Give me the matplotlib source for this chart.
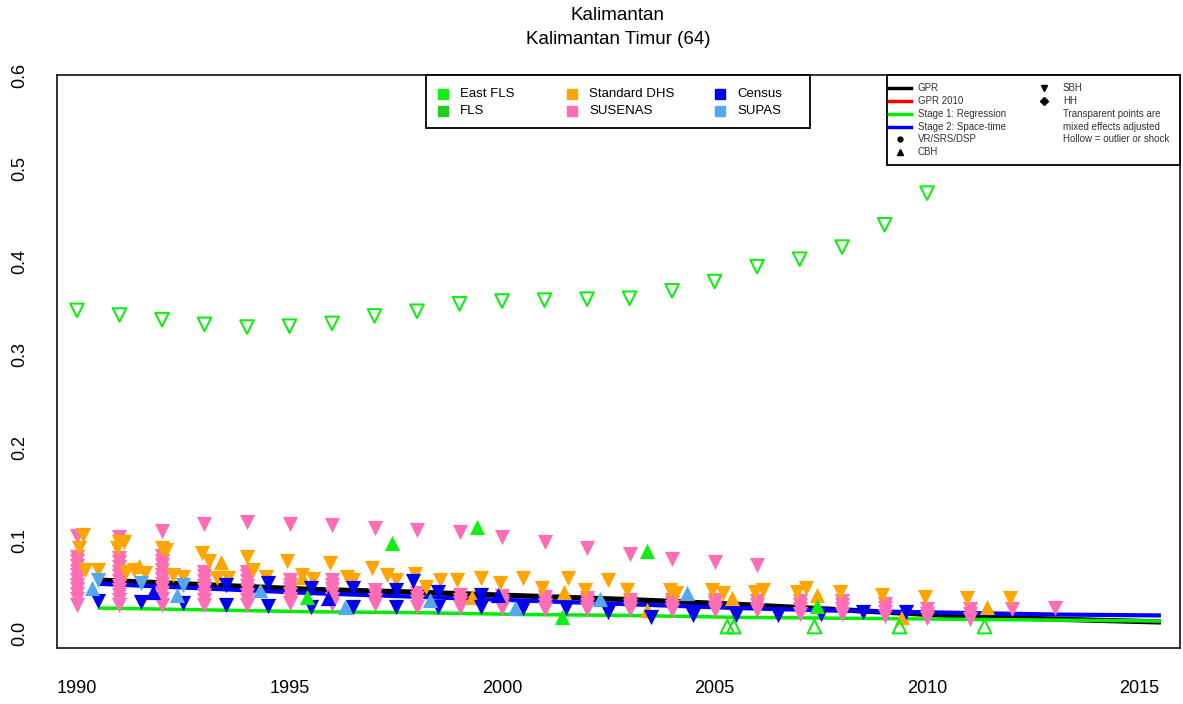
import numpy as np
import matplotlib.pyplot as plt
from matplotlib.lines import Line2D
from matplotlib.patches import Rectangle

plt.rcParams['font.family'] = ['Liberation Sans', 'DejaVu Sans']

# colours of the sources
c_eastfls = '#11EE11'
c_fls = '#22CC22'
c_dhs = '#FFA500'
c_susenas = '#FF6EB4'
c_census = '#0000EE'
c_supas = '#55A8EE'

# model lines
line_years = [1990.5, 1993, 1995.5, 1998, 2000.5, 2003, 2005.5, 2008, 2010.5, 2013, 2015.5]
gpr = [0.057, 0.052, 0.047, 0.044, 0.040, 0.036, 0.031, 0.025, 0.019, 0.015, 0.012]
stage2 = [0.053, 0.048, 0.043, 0.039, 0.035, 0.031, 0.027, 0.024, 0.022, 0.020, 0.019]
stage1 = [0.027, 0.025, 0.023, 0.022, 0.020, 0.019, 0.017, 0.016, 0.015, 0.014, 0.013]

# SUSENAS, SBH (stacks of reports per year)
susenas_years = list(range(1990, 2014))
susenas_vals = [
    [0.104, 0.082, 0.077, 0.072, 0.067, 0.062, 0.057, 0.052, 0.047, 0.042, 0.037, 0.030],
    [0.103, 0.081, 0.076, 0.071, 0.066, 0.061, 0.056, 0.051, 0.046, 0.041, 0.036, 0.030],
    [0.110, 0.083, 0.078, 0.073, 0.068, 0.063, 0.058, 0.053, 0.048, 0.043, 0.037, 0.030],
    [0.117, 0.066, 0.061, 0.056, 0.051, 0.046, 0.041, 0.036, 0.030],
    [0.119, 0.066, 0.061, 0.056, 0.051, 0.046, 0.041, 0.036, 0.030],
    [0.117, 0.057, 0.052, 0.047, 0.042, 0.037, 0.032],
    [0.116, 0.057, 0.052, 0.047, 0.042, 0.037, 0.031],
    [0.113, 0.046, 0.041, 0.036, 0.031],
    [0.111, 0.043, 0.038, 0.033, 0.028],
    [0.109, 0.041, 0.036, 0.032, 0.028],
    [0.103, 0.040, 0.035, 0.031, 0.027],
    [0.098, 0.039, 0.034, 0.030, 0.026],
    [0.091, 0.038, 0.034, 0.030, 0.026],
    [0.085, 0.036, 0.032, 0.029, 0.026],
    [0.080, 0.036, 0.032, 0.028, 0.025],
    [0.076, 0.036, 0.032, 0.028, 0.025],
    [0.073, 0.034, 0.030, 0.025],
    [0.034, 0.030, 0.026, 0.021],
    [0.034, 0.030, 0.026, 0.021],
    [0.031, 0.027, 0.023, 0.018],
    [0.026, 0.021, 0.016],
    [0.026, 0.021, 0.015],
    [0.026],
    [0.027],
]

# Standard DHS
dhs_sbh_x = [1990.15, 1990.05, 1990.2, 1990.5,
             1991.0, 1991.1, 1990.95, 1991.15, 1991.35, 1991.6,
             1992.0, 1992.1, 1992.25, 1992.5,
             1992.95, 1993.1, 1993.3, 1993.55,
             1994.0, 1994.15, 1994.45,
             1994.95, 1995.3, 1995.55,
             1995.95, 1996.35, 1996.5,
             1996.95, 1997.3, 1997.5,
             1997.95, 1998.2, 1998.55,
             1998.95, 1999.5,
             1999.95, 2000.5,
             2000.95, 2001.55,
             2001.95, 2002.5,
             2002.95,
             2003.95, 2004.1,
             2004.95, 2005.2,
             2005.95, 2006.15,
             2006.95, 2007.15,
             2007.95, 2008.95, 2009.95, 2010.95, 2011.95]
dhs_sbh_y = [0.105, 0.091, 0.068, 0.068,
             0.098, 0.098, 0.092, 0.066, 0.068, 0.065,
             0.091, 0.089, 0.062, 0.060,
             0.086, 0.078, 0.059, 0.059,
             0.082, 0.068, 0.060,
             0.078, 0.062, 0.058,
             0.075, 0.060, 0.057,
             0.070, 0.062, 0.057,
             0.064, 0.050, 0.057,
             0.057, 0.059,
             0.054, 0.059,
             0.049, 0.059,
             0.046, 0.057,
             0.046,
             0.046, 0.043,
             0.046, 0.043,
             0.044, 0.046,
             0.044, 0.048,
             0.044, 0.041, 0.039, 0.038, 0.038]
dhs_cbh_x = [1991.45, 1993.4, 1995.3, 1999.3, 2001.45, 2003.4, 2005.4, 2007.4, 2009.4, 2011.4]
dhs_cbh_y = [0.072, 0.076, 0.060, 0.039, 0.044, 0.025, 0.038, 0.041, 0.017, 0.028]

# Census
census_sbh_x = [1990.5, 1991.5, 1992.5, 1993.5, 1994.5, 1995.5, 1996.5, 1997.5, 1998.5, 1999.5,
                2000.5, 2001.5, 2002.5, 2003.5, 2004.5, 2005.5, 2006.5, 2007.5, 2008.5, 2009.5,
                1993.5, 1994.5, 1995.5, 1996.5, 1997.5, 1998.5, 1999.5, 1997.9]
census_sbh_y = [0.034, 0.033, 0.032, 0.030, 0.029, 0.028, 0.028, 0.028, 0.028, 0.028,
                0.027, 0.027, 0.023, 0.017, 0.019, 0.019, 0.019, 0.021, 0.023, 0.023,
                0.052, 0.054, 0.049, 0.049, 0.046, 0.044, 0.041, 0.056]
census_cbh_x = [1991.8, 1995.9, 1999.9]
census_cbh_y = [0.044, 0.038, 0.041]

# SUPAS
supas_sbh_x = [1990.5, 1991.5, 1992.5]
supas_sbh_y = [0.057, 0.054, 0.052]
supas_cbh_x = [1990.35, 1992.35, 1994.3, 1996.3, 1998.3, 2000.3, 2002.3, 2004.35]
supas_cbh_y = [0.048, 0.041, 0.046, 0.028, 0.036, 0.027, 0.037, 0.043]

# FLS
fls_cbh_x = [1995.4, 1997.4, 1999.4, 2001.4, 2003.4, 2007.4]
fls_cbh_y = [0.039, 0.097, 0.114, 0.017, 0.088, 0.029]
fls_cbh_out_x = [2005.3, 2005.45, 2007.35, 2009.35, 2011.35]
fls_cbh_out_y = [0.007, 0.007, 0.007, 0.007, 0.007]
fls_sbh_out_x = list(range(1990, 2011))
fls_sbh_out_y = [0.347, 0.342, 0.337, 0.332, 0.329, 0.330, 0.333, 0.341, 0.346, 0.354, 0.357,
                 0.358, 0.359, 0.360, 0.368, 0.378, 0.394, 0.402, 0.415, 0.439, 0.473]

W, H = 1183, 704
fig = plt.figure(figsize=(W / 100, H / 100), dpi=100)
ax = fig.add_axes([57 / W, 1 - 648 / H, (1180 - 57) / W, (648 - 75) / H])

ax.plot(line_years, gpr, color='black', lw=3.8, zorder=2, solid_capstyle='butt')
ax.plot(line_years, stage2, color='#0000FF', lw=3, zorder=2, solid_capstyle='butt')
ax.plot(line_years, stage1, color='#00EE00', lw=2.5, zorder=2, solid_capstyle='butt')

ms = 120
sx = [y for y, vals in zip(susenas_years, susenas_vals) for v in vals]
sy = [v for vals in susenas_vals for v in vals]
ax.scatter(sx, sy, marker='v', s=ms, color=c_susenas, lw=0, zorder=3)
ax.scatter(dhs_sbh_x, dhs_sbh_y, marker='v', s=ms, color=c_dhs, lw=0, zorder=3)
ax.scatter(dhs_cbh_x, dhs_cbh_y, marker='^', s=ms, color=c_dhs, lw=0, zorder=3)
ax.scatter(census_sbh_x, census_sbh_y, marker='v', s=ms, color=c_census, lw=0, zorder=3)
ax.scatter(census_cbh_x, census_cbh_y, marker='^', s=ms, color=c_census, lw=0, zorder=3)
ax.scatter(supas_sbh_x, supas_sbh_y, marker='v', s=ms, color=c_supas, lw=0, zorder=3)
ax.scatter(supas_cbh_x, supas_cbh_y, marker='^', s=ms, color=c_supas, lw=0, zorder=3)
ax.scatter(fls_cbh_x, fls_cbh_y, marker='^', s=ms, color=c_eastfls, lw=0, zorder=3)
ax.scatter(fls_cbh_out_x, fls_cbh_out_y, marker='^', s=95, facecolors='none',
           edgecolors=c_eastfls, lw=1.5, zorder=3)
ax.scatter(fls_sbh_out_x, fls_sbh_out_y, marker='v', s=95, facecolors='none',
           edgecolors=c_eastfls, lw=1.5, zorder=3)

ax.set_xlim(1989.53, 2015.95)
ax.set_ylim(-0.016, 0.6)
ax.set_xticks([1990, 1995, 2000, 2005, 2010, 2015])
ax.set_yticks([0.0, 0.1, 0.2, 0.3, 0.4, 0.5, 0.6])
ax.set_yticklabels(['0.0', '0.1', '0.2', '0.3', '0.4', '0.5', '0.6'], rotation=90, va='center')
ax.tick_params(axis='x', length=0, pad=23, labelsize=13)
ax.tick_params(axis='y', length=0, pad=21, labelsize=13)
for s in ax.spines.values():
    s.set_linewidth(1.3)
    s.set_color('#222222')

fig.text(618 / W, 1 - 15 / H, 'Kalimantan', ha='center', va='center', fontsize=13.5)
fig.text(618 / W, 1 - 39 / H, 'Kalimantan Timur (64)', ha='center', va='center', fontsize=13.5)


def fx(px):
    return px / W


def fy(py):
    return 1 - py / H


# source legend
fig.add_artist(Rectangle((fx(426), fy(128)), fx(810) - fx(426), fy(75) - fy(128),
                         transform=fig.transFigure, facecolor='white', edgecolor='black', lw=1.3))
src_names = ['East FLS', 'FLS', 'Standard DHS', 'SUSENAS', 'Census', 'SUPAS']
src_cols = [c_eastfls, c_fls, c_dhs, c_susenas, c_census, c_supas]
col_x = [443, 443, 572, 572, 720, 720]
row_y = [94, 111, 94, 111, 94, 111]
for name, col, px, py in zip(src_names, src_cols, col_x, row_y):
    fig.add_artist(Line2D([fx(px)], [fy(py)], marker='s', markersize=7, color=col,
                          transform=fig.transFigure))
    fig.text(fx(px + 17), fy(py), name, fontsize=9.5, va='center', ha='left')

# model / type legend
fig.add_artist(Rectangle((fx(887), fy(165)), fx(1180) - fx(887), fy(75) - fy(165),
                         transform=fig.transFigure, facecolor='white', edgecolor='black', lw=1.3))
rows = [88, 101, 114, 127, 139, 152]
tcol = '#333333'
for name, col, py in zip(['GPR', 'GPR 2010', 'Stage 1: Regression', 'Stage 2: Space-time'],
                         ['black', 'red', '#00EE00', '#0000FF'], rows):
    fig.add_artist(Line2D([fx(889), fx(911)], [fy(py), fy(py)], color=col, lw=2.5,
                          transform=fig.transFigure))
    fig.text(fx(918), fy(py), name, fontsize=7, va='center', color=tcol)
fig.add_artist(Line2D([fx(900)], [fy(rows[4])], marker='o', markersize=3.5, color='black',
                      transform=fig.transFigure))
fig.text(fx(918), fy(rows[4]), 'VR/SRS/DSP', fontsize=7, va='center', color=tcol)
fig.add_artist(Line2D([fx(900)], [fy(rows[5])], marker='^', markersize=5, color='black',
                      transform=fig.transFigure))
fig.text(fx(918), fy(rows[5]), 'CBH', fontsize=7, va='center', color=tcol)
fig.add_artist(Line2D([fx(1044)], [fy(rows[0])], marker='v', markersize=5, color='black',
                      transform=fig.transFigure))
fig.text(fx(1063), fy(rows[0]), 'SBH', fontsize=7, va='center', color=tcol)
fig.add_artist(Line2D([fx(1044)], [fy(rows[1])], marker='D', markersize=4, color='black',
                      transform=fig.transFigure))
fig.text(fx(1063), fy(rows[1]), 'HH', fontsize=7, va='center', color=tcol)
for txt, py in zip(['Transparent points are', 'mixed effects adjusted', 'Hollow = outlier or shock'],
                   rows[2:5]):
    fig.text(fx(1063), fy(py), txt, fontsize=7, va='center', color=tcol)

fig.savefig('out.png', dpi=100)
